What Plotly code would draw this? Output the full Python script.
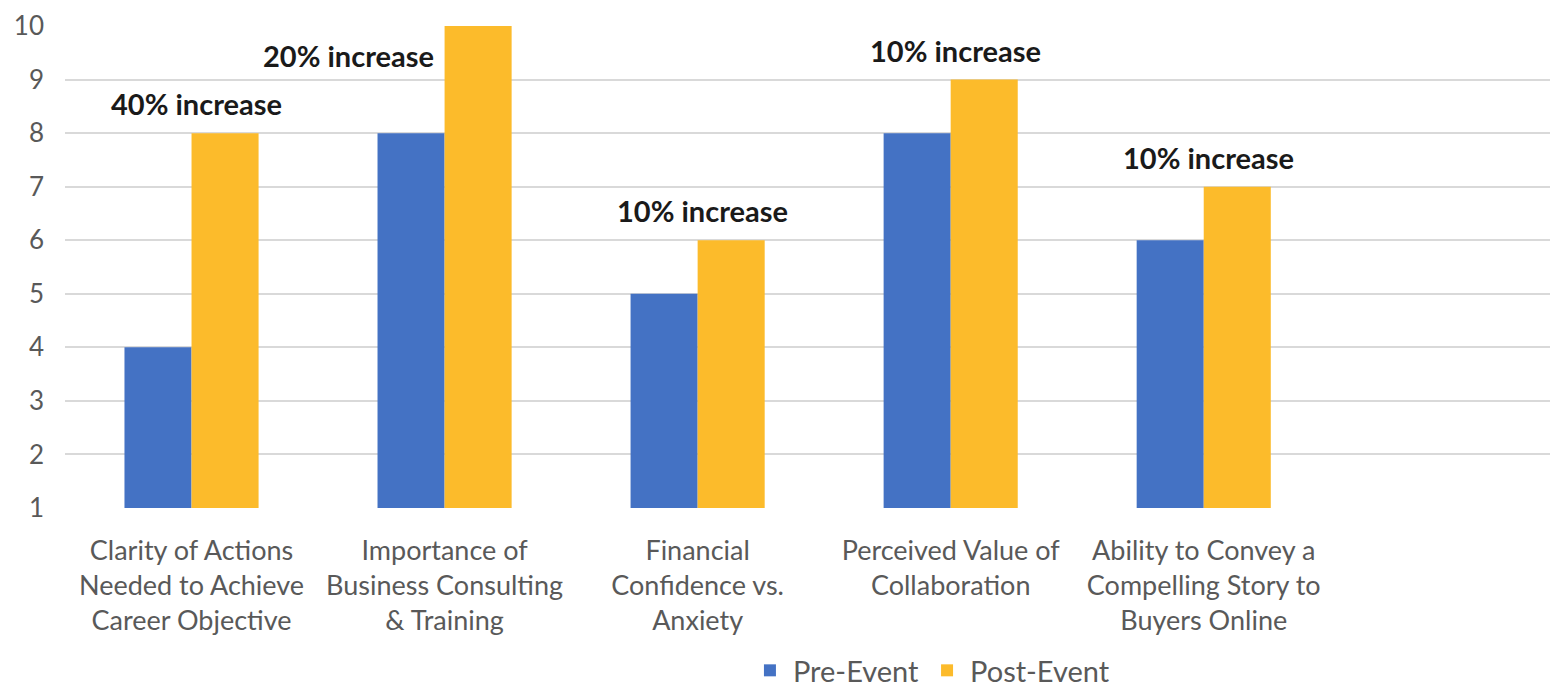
import plotly.graph_objects as go

categories = [
    "Clarity of Actions<br>Needed to Achieve<br>Career Objective",
    "Importance of<br>Business Consulting<br>& Training",
    "Financial<br>Confidence vs.<br>Anxiety",
    "Perceived Value of<br>Collaboration",
    "Ability to Convey a<br>Compelling Story to<br>Buyers Online",
]
pre_event = [4, 8, 5, 8, 6]
post_event = [8, 10, 6, 9, 7]
increase_labels = ["40% increase", "20% increase", "10% increase", "10% increase", "10% increase"]
y_ticks = [1, 2, 3, 4, 5, 6, 7, 8, 9, 10]

BLUE = "#4472C4"
GOLD = "#FCBB2B"
GREY = "#595959"
FONT = "Lato, 'Open Sans', sans-serif"

xpos = list(range(len(categories)))

fig = go.Figure()
fig.add_trace(go.Bar(x=xpos, y=[v - 1 for v in pre_event], base=1, name="Pre-Event",
                     marker=dict(color=BLUE, line=dict(width=0)), hoverinfo="skip"))
fig.add_trace(go.Bar(x=xpos, y=[v - 1 for v in post_event], base=1, name="Post-Event",
                     marker=dict(color=GOLD, line=dict(width=0)), hoverinfo="skip"))

# annotations above each group
for i, (lbl, p) in enumerate(zip(increase_labels, post_event)):
    if p >= 10:
        x, y = i - 0.38, p - 0.55
    else:
        x, y = i + 0.02, p + 0.55
    fig.add_annotation(x=x, y=y, xref="x", yref="y", text="<b>" + lbl + "</b>",
                       showarrow=False, font=dict(family=FONT, size=29, color="#1a1a1a"),
                       xanchor="center", yanchor="middle")

fig.update_layout(
    width=1550, height=689,
    margin=dict(l=57, r=0, t=18, b=189),
    paper_bgcolor="white", plot_bgcolor="white",
    barmode="group", bargap=0.47, bargroupgap=0,
    font=dict(family=FONT, color=GREY, size=24),
    showlegend=True,
    legend=dict(orientation="h", x=0.58, xanchor="center", y=-0.39, yanchor="bottom",
                font=dict(family=FONT, size=29, color=GREY), traceorder="normal",
                itemwidth=36, bgcolor="rgba(0,0,0,0)"),
)
fig.update_xaxes(
    tickmode="array", tickvals=xpos, ticktext=categories,
    range=[-0.5, 5.4], showgrid=False, zeroline=False, showline=False, automargin=False,
    tickfont=dict(family=FONT, size=27, color=GREY), ticks="", ticklabelstandoff=24,
)
fig.update_yaxes(
    range=[1, 10.001], tickvals=y_ticks, showgrid=True, gridcolor="#D9D9D9", gridwidth=1.5,
    zeroline=False, showline=False, ticks="", ticklabeloverflow="allow", automargin=False,
    tickfont=dict(family=FONT, size=26, color=GREY), ticklabelstandoff=20,
)

fig.write_html("out.html")
